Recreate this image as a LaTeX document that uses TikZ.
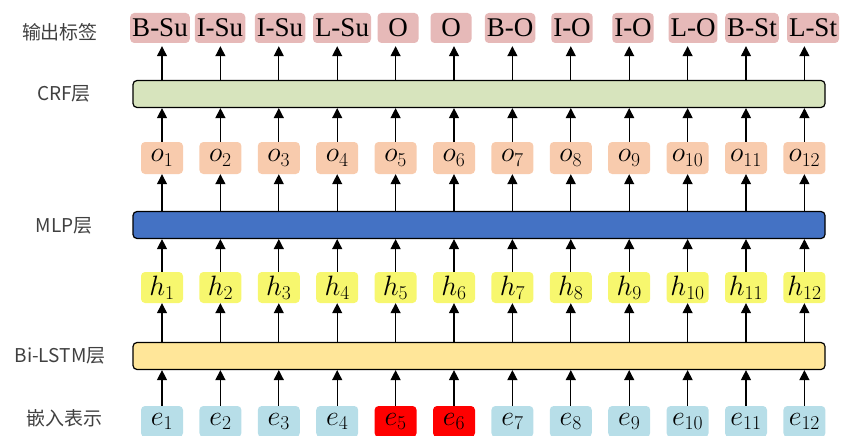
\RequirePackage{fix-cm}
\documentclass[tikz,border=0pt]{standalone}
\usepackage{fontspec}
\setmainfont{Liberation Serif}
\newfontfamily\cjk{Noto Sans CJK SC}
\usetikzlibrary{arrows.meta}
\definecolor{labpink}{HTML}{E6B9B8}
\definecolor{crfgreen}{HTML}{D7E4BD}
\definecolor{opeach}{HTML}{F8CBAD}
\definecolor{mlpblue}{HTML}{4472C4}
\definecolor{hyellow}{HTML}{F7F76E}
\definecolor{lstmyellow}{HTML}{FFE699}
\definecolor{eblue}{HTML}{B7DEE8}
\definecolor{ered}{HTML}{FF0000}
\tikzset{
  labbox/.style={fill=labpink, rounded corners=4pt, minimum height=30pt, minimum width=41pt, inner sep=2pt, font=\fontsize{27}{29}\selectfont},
  cellbox/.style={rounded corners=4pt, minimum height=31pt, minimum width=42pt, inner sep=0pt, font=\fontsize{28}{30}\selectfont},
  barbox/.style={draw=black, line width=1.2pt, rounded corners=4pt, minimum width=692pt, minimum height=27pt, inner sep=0pt},
  sidelab/.style={font=\cjk\fontsize{19}{21}\selectfont, text=black!75},
  arr/.style={draw=black, line width=1.2pt, -{Triangle[length=10pt, width=10pt]}}
}
\begin{document}
\begin{tikzpicture}[x=1pt, y=-1pt]
\useasboundingbox (0,0) rectangle (847,436);
% bars
\node[barbox, fill=crfgreen] (crf) at (479,94) {};
\node[barbox, fill=mlpblue] (mlp) at (479,225) {};
\node[barbox, fill=lstmyellow] (lstm) at (479,356) {};
% side labels
\node[sidelab] (s1) at (60,32) {输出标签};
\node[sidelab] (s2) at (64,94) {CRF层};
\node[sidelab] (s3) at (64,226) {MLP层};
\node[sidelab] (s4) at (60,356) {Bi-LSTM层};
\node[sidelab] (s5) at (65,418) {嵌入表示};
% output labels
\foreach \i/\t/\lx in {1/B-Su/160, 2/I-Su/220, 3/I-Su/280, 4/L-Su/342, 5/O/398, 6/O/451, 7/B-O/510, 8/I-O/572, 9/I-O/633, 10/L-O/693, 11/B-St/752, 12/L-St/813}{
  \node[labbox] (l\i) at (\lx,28) {\t};
}
% cells
\foreach \i in {1,...,12}{
  \pgfmathsetmacro{\cx}{162+(\i-1)*58.4}
  \node[cellbox, fill=opeach, minimum height=32pt] (o\i) at (\cx,158) {$o_{\i}$};
  \node[cellbox, fill=hyellow] (h\i) at (\cx,287.5) {$h_{\i}$};
}
\foreach \i in {1,2,3,4,7,8,9,10,11,12}{
  \pgfmathsetmacro{\cx}{162+(\i-1)*58.4}
  \node[cellbox, fill=eblue] (e\i) at (\cx,421.5) {$e_{\i}$};
}
\foreach \i in {5,6}{
  \pgfmathsetmacro{\cx}{162+(\i-1)*58.4}
  \node[cellbox, fill=ered] (e\i) at (\cx,421.5) {$e_{\i}$};
}
% arrows
\foreach \i in {1,...,12}{
  \draw[arr, shorten >=3pt] (crf.north -| o\i) -- (o\i |- l\i.south);
  \draw[arr] (o\i.north) -- (o\i |- crf.south);
  \draw[arr] (mlp.north -| o\i) -- (o\i.south);
  \draw[arr] (h\i.north) -- (h\i |- mlp.south);
  \draw[arr] (lstm.north -| h\i) -- (h\i.south);
  \draw[arr] (e\i.north) -- (e\i |- lstm.south);
}
\end{tikzpicture}
\end{document}
